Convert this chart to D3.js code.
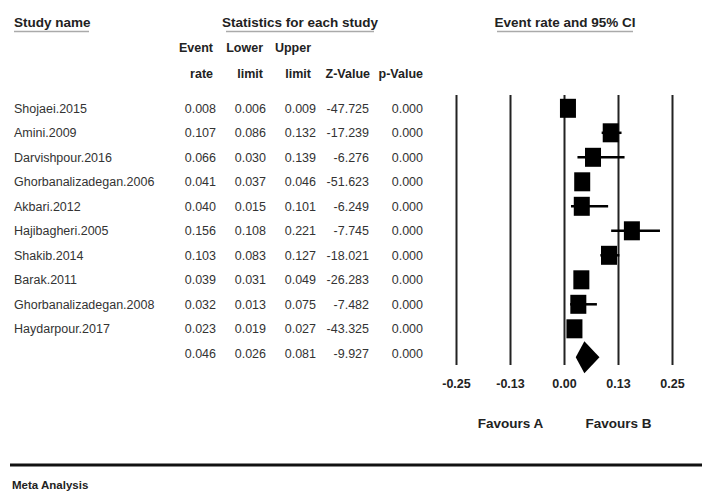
<!DOCTYPE html>
<html>
<head>
<meta charset="utf-8">
<script src="https://cdn.jsdelivr.net/npm/d3@7/dist/d3.min.js"></script>
<style>
  html, body { margin: 0; padding: 0; background: #fff; }
  svg { display: block; }
  text { font-family: "Liberation Sans Narrow", "Arial Narrow", "Liberation Sans", sans-serif; }
</style>
</head>
<body>
<div id="chart"></div>
<script>
// ── Data ──
const studies = ["Shojaei.2015", "Amini.2009", "Darvishpour.2016", "Ghorbanalizadegan.2006",
  "Akbari.2012", "Hajibagheri.2005", "Shakib.2014", "Barak.2011",
  "Ghorbanalizadegan.2008", "Haydarpour.2017"];
const eventRate = [0.008, 0.107, 0.066, 0.041, 0.040, 0.156, 0.103, 0.039, 0.032, 0.023];
const lowerLimit = [0.006, 0.086, 0.030, 0.037, 0.015, 0.108, 0.083, 0.031, 0.013, 0.019];
const upperLimit = [0.009, 0.132, 0.139, 0.046, 0.101, 0.221, 0.127, 0.049, 0.075, 0.027];
const zValue = [-47.725, -17.239, -6.276, -51.623, -6.249, -7.745, -18.021, -26.283, -7.482, -43.325];
const pValue = [0.000, 0.000, 0.000, 0.000, 0.000, 0.000, 0.000, 0.000, 0.000, 0.000];
const summary = { rate: 0.046, lower: 0.026, upper: 0.081, z: -9.927, p: 0.000 };
const tickValues = [-0.25, -0.125, 0, 0.125, 0.25];
const tickLabels = ["-0.25", "-0.13", "0.00", "0.13", "0.25"];

const W = 702, H = 493;
const svg = d3.select("#chart").append("svg").attr("width", W).attr("height", H);

// ── Scales ──
const x = d3.scaleLinear().domain([-0.25, 0.25]).range([456.5, 672.5]);
const rowIdx = d3.range(studies.length + 1);
const y = d3.scalePoint().domain(rowIdx).range([108.3, 353.3]);

const ink = "#333";

// ── Headers ──
function header(txt, cx, cy, anchor) {
  return svg.append("text").attr("x", cx).attr("y", cy).attr("text-anchor", anchor)
    .attr("font-size", 13.5).attr("font-weight", "bold").attr("fill", "#222").text(txt);
}
header("Study name", 14, 27, "start");
header("Statistics for each study", 300, 27, "middle");
header("Event rate and 95% CI", 565, 27, "middle");
// grey underlines
[[14, 89], [226, 374], [497, 633]].forEach(([a, b]) => {
  svg.append("line").attr("x1", a).attr("x2", b).attr("y1", 31.5).attr("y2", 31.5)
    .attr("stroke", "#aaa").attr("stroke-width", 1.5);
});

// column headers
const cols = [
  { l1: "Event", l2: "rate", x: 213, vals: eventRate, s: summary.rate, fmt: d3.format(".3f") },
  { l1: "Lower", l2: "limit", x: 263, vals: lowerLimit, s: summary.lower, fmt: d3.format(".3f") },
  { l1: "Upper", l2: "limit", x: 311, vals: upperLimit, s: summary.upper, fmt: d3.format(".3f") },
  { l1: "", l2: "Z-Value", x: 370, vals: zValue, s: summary.z, fmt: d3.format(".3f") },
  { l1: "", l2: "p-Value", x: 423, vals: pValue, s: summary.p, fmt: d3.format(".3f") }
];
const colData = [216, 266, 316, 369, 423];

cols.forEach((c, i) => {
  if (c.l1) header(c.l1, c.x, 52, "end").attr("font-size", 12.5);
  header(c.l2, c.x, 78, "end").attr("font-size", 12.5);
  const all = c.vals.concat([c.s]);
  svg.append("g").selectAll("text").data(all).join("text")
    .attr("x", colData[i]).attr("y", (d, j) => y(j) + 4.5)
    .attr("text-anchor", "end").attr("font-size", 12.5).attr("fill", ink)
    .text(d => c.fmt(d).replace("−", "-"));
});

// study names
svg.append("g").selectAll("text").data(studies).join("text")
  .attr("x", 14).attr("y", (d, j) => y(j) + 4.5)
  .attr("font-size", 12.5).attr("fill", ink).text(d => d);

// ── Forest plot ──
svg.append("g").selectAll("line").data(tickValues).join("line")
  .attr("x1", d => x(d)).attr("x2", d => x(d))
  .attr("y1", 95).attr("y2", 365)
  .attr("stroke", "#222").attr("stroke-width", 2);

const plot = svg.append("g");
plot.selectAll("line.ci").data(studies).join("line").attr("class", "ci")
  .attr("x1", (d, i) => x(lowerLimit[i])).attr("x2", (d, i) => x(upperLimit[i]))
  .attr("y1", (d, i) => y(i)).attr("y2", (d, i) => y(i))
  .attr("stroke", "#000").attr("stroke-width", 2.5);

const bw = 16, bh = 19;
plot.selectAll("rect").data(studies).join("rect")
  .attr("x", (d, i) => x(eventRate[i]) - bw / 2)
  .attr("y", (d, i) => y(i) - bh / 2)
  .attr("width", bw).attr("height", bh).attr("fill", "#000");

// summary diamond
const sy = y(studies.length) + 4, dh = 16;
plot.append("path")
  .attr("d", `M${x(summary.lower)},${sy} L${x(summary.rate)},${sy - dh} L${x(summary.upper)},${sy} L${x(summary.rate)},${sy + dh} Z`)
  .attr("fill", "#000");

// tick labels
svg.append("g").selectAll("text").data(tickValues).join("text")
  .attr("x", d => x(d)).attr("y", 388).attr("text-anchor", "middle")
  .attr("font-size", 12.5).attr("font-weight", "bold").attr("fill", "#222")
  .text((d, i) => tickLabels[i]);

header("Favours A", x(-0.125), 428, "middle").attr("font-size", 13.5);
header("Favours B", x(0.125), 428, "middle").attr("font-size", 13.5);

// bottom rule + caption
svg.append("line").attr("x1", 10).attr("x2", W).attr("y1", 465).attr("y2", 465)
  .attr("stroke", "#111").attr("stroke-width", 3);
header("Meta Analysis", 12, 489, "start").attr("font-size", 11.5);
</script>
</body>
</html>
